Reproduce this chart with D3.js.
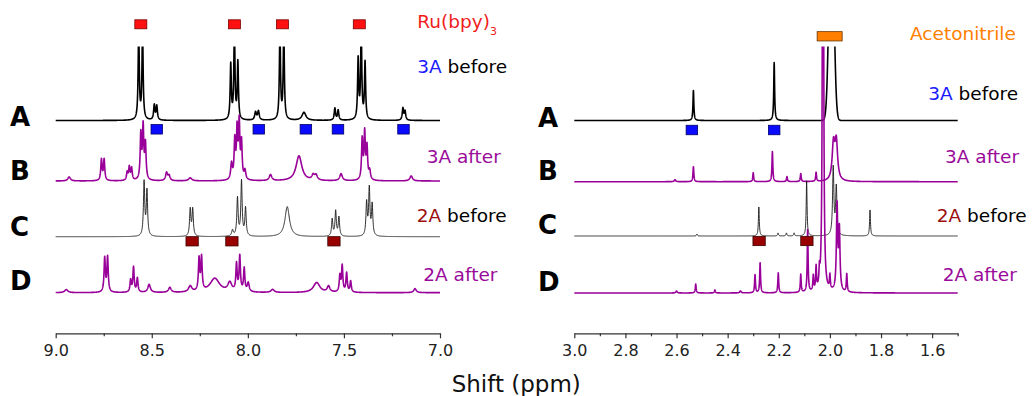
<!DOCTYPE html>
<html>
<head>
<meta charset="utf-8">
<script src="https://cdn.jsdelivr.net/npm/d3@7"></script>
<style>
  html, body { margin: 0; padding: 0; background: #fff; }
</style>
</head>
<body>
<script>
const fontFamily = "'DejaVu Sans', 'Liberation Sans', sans-serif";

// axes
const leftDomain = [9.0, 7.0];
const rightDomain = [3.0, 1.5];
const leftMajorTicks = [9.0, 8.5, 8.0, 7.5, 7.0];
const leftMinorTicks = [8.75, 8.25, 7.75, 7.25];
const rightMajorTicks = [3.0, 2.8, 2.6, 2.4, 2.2, 2.0, 1.8, 1.6];
const rightMinorTicks = [2.9, 2.7, 2.5, 2.3, 2.1, 1.9, 1.7, 1.5];

const rowLetters = ["A", "B", "C", "D"];
const sampleNames = ["3A", "3A", "2A", "2A"];
const sampleStates = ["before", "after", "before", "after"];

// peak lists: [ppm, height, half width (ppm), optional "g" for gaussian shape]
const leftA = [
    [8.568, 90, 0.0035], [8.548, 90, 0.0035],
    [8.487, 15, 0.004], [8.474, 14, 0.004],
    [8.089, 55, 0.0035], [8.070, 90, 0.0035], [8.052, 57, 0.0035],
    [7.960, 8, 0.005], [7.945, 9, 0.005],
    [7.833, 90, 0.0035], [7.813, 90, 0.0035],
    [7.708, 8, 0.012],
    [7.547, 12, 0.004], [7.530, 10, 0.004],
    [7.426, 60, 0.0035], [7.410, 90, 0.0035], [7.390, 57, 0.0035],
    [7.193, 12, 0.004], [7.182, 9, 0.004]
];
const leftB = [
    [8.930, 4, 0.008],
    [8.762, 21, 0.004], [8.748, 21, 0.004],
    [8.628, 8, 0.004], [8.617, 13, 0.004], [8.605, 12, 0.004],
    [8.557, 45, 0.004], [8.545, 52, 0.004], [8.533, 35, 0.004],
    [8.423, 8, 0.006], [8.410, 5, 0.006],
    [8.300, 3, 0.01],
    [8.085, 16, 0.005], [8.068, 38, 0.004], [8.056, 48, 0.004],
    [8.045, 55, 0.004], [8.033, 36, 0.004], [8.015, 9, 0.005],
    [7.882, 6, 0.008],
    [7.734, 25, 0.018],
    [7.660, 5, 0.008], [7.645, 5, 0.008],
    [7.515, 7, 0.008],
    [7.405, 40, 0.004], [7.392, 46, 0.004], [7.380, 32, 0.004], [7.366, 9, 0.005],
    [7.150, 5, 0.008]
];
const leftC = [
    [8.540, 54, 0.004], [8.525, 45, 0.004],
    [8.300, 27, 0.004], [8.287, 27, 0.004],
    [8.080, 6, 0.005],
    [8.054, 38, 0.004], [8.033, 55, 0.004], [8.012, 28, 0.004],
    [7.795, 30, 0.014],
    [7.561, 17, 0.004], [7.543, 25, 0.004], [7.526, 19, 0.004],
    [7.382, 33, 0.004], [7.368, 47, 0.004], [7.353, 31, 0.004]
];
const leftD = [
    [8.945, 3, 0.01],
    [8.745, 34, 0.004], [8.730, 35, 0.004],
    [8.610, 12, 0.004], [8.595, 25, 0.004], [8.575, 14, 0.004],
    [8.514, 8, 0.008],
    [8.406, 5, 0.008],
    [8.300, 6, 0.01],
    [8.254, 32, 0.004], [8.241, 33, 0.004],
    [8.172, 14, 0.03],
    [8.094, 9, 0.012],
    [8.059, 27, 0.004], [8.042, 35, 0.004], [8.019, 23, 0.004],
    [7.998, 9, 0.006],
    [7.871, 3, 0.01],
    [7.642, 10, 0.02],
    [7.580, 6, 0.008],
    [7.521, 16, 0.004], [7.509, 26, 0.004], [7.486, 19, 0.004], [7.465, 11, 0.004],
    [7.130, 4, 0.008]
];
const rightA = [
    [2.534, 30, 0.002],
    [2.218, 58, 0.002],
    [1.994, 220, 0.0092, "g"]
];
const rightB = [
    [2.606, 2, 0.003],
    [2.534, 15, 0.002],
    [2.300, 9, 0.002],
    [2.225, 30, 0.002],
    [2.168, 5, 0.002],
    [2.114, 8, 0.002],
    [2.054, 9, 0.002],
    [1.986, 36, 0.006], [1.975, 38, 0.006]
];
const rightC = [
    [2.520, 2, 0.002],
    [2.278, 29, 0.002],
    [2.203, 3, 0.002], [2.170, 3, 0.002], [2.140, 3, 0.002],
    [2.091, 55, 0.002],
    [1.987, 68, 0.003], [1.975, 48, 0.003],
    [1.843, 26, 0.002]
];
const rightD = [
    [2.600, 2, 0.003], [2.525, 9, 0.002], [2.450, 3, 0.002], [2.350, 2, 0.003],
    [2.293, 18, 0.002], [2.273, 30, 0.002],
    [2.202, 20, 0.002],
    [2.114, 18, 0.002],
    [2.087, 62, 0.002],
    [2.065, 15, 0.002], [2.054, 23, 0.002], [2.041, 15, 0.002],
    [2.027, 800, 0.002],
    [2.000, 14, 0.002],
    [1.972, 85, 0.003], [1.963, 60, 0.003],
    [1.934, 18, 0.002]
];

// assignment markers (ppm)
const ruMarks = [8.557, 8.07, 7.82, 7.42];
const blueMarksLeft = [8.474, 7.943, 7.698, 7.531, 7.19];
const brownMarksLeft = [8.29, 8.083, 7.552];
const blueMarksRight = [2.54, 2.218];
const brownMarksRight = [2.277, 2.09];
const acetonitrileMarks = [2.001];

const width = 1035;
const height = 396;
const axisY = 333.3;
const clipTop = 46.5;

const traceStyles = [
    { color: "#000", width: 1.6 },
    { color: "#990099", width: 1.6 },
    { color: "#1a1a1a", width: 0.9 },
    { color: "#990099", width: 1.6 }
];

const panels = [
    {
        id: "left",
        domain: leftDomain,
        range: [55.7, 440],
        step: 0.0008,
        major: leftMajorTicks,
        minor: leftMinorTicks,
        traces: [leftA, leftB, leftC, leftD],
        baselines: [120.5, 181, 236.7, 292.7],
        letterX: 10,
        letterY: [126, 180, 236, 290],
        labelX: [417.3, 426.7, 416.7, 423.3],
        labelY: [73.3, 163.3, 221.7, 280.7]
    },
    {
        id: "right",
        domain: rightDomain,
        range: [574.3, 957.7],
        step: 0.0004,
        major: rightMajorTicks,
        minor: rightMinorTicks,
        traces: [rightA, rightB, rightC, rightD],
        baselines: [120.5, 181.7, 236, 293],
        letterX: 538,
        letterY: [127, 180, 234, 291],
        labelX: [928.3, 945, 936.7, 942.7],
        labelY: [100, 163.3, 221.7, 280.7]
    }
];


function lineShape(p, x) {
    let d = (x - p[0]) / p[2];
    if (p[3] === "g") {
        return p[1] * Math.exp(-0.5 * d * d);
    }
    return p[1] / (1 + d * d);
}


function spectrum(peaks, domain, step) {
    let lo = Math.min(domain[0], domain[1]);
    let hi = Math.max(domain[0], domain[1]);
    let xs = d3.range(lo, hi + step / 2, step);
    peaks.forEach(p => { if (p[0] >= lo && p[0] <= hi) xs.push(p[0]); });
    xs.sort((a, b) => b - a);
    return xs.map(x => [x, d3.sum(peaks, p => lineShape(p, x))]);
}


function drawPanel(svg, panel) {
    let x = d3.scaleLinear().domain(panel.domain).range(panel.range);

    svg.append("clipPath")
        .attr("id", "clip-" + panel.id)
        .append("rect")
        .attr("x", panel.range[0] - 2)
        .attr("y", clipTop)
        .attr("width", panel.range[1] - panel.range[0] + 4)
        .attr("height", axisY - clipTop);

    let g = svg.append("g")
        .attr("clip-path", "url(#clip-" + panel.id + ")");

    panel.traces.forEach((peaks, i) => {
        let base = panel.baselines[i];
        let y = d3.scaleLinear().domain([0, 100]).range([base, base - 100]);
        let line = d3.line()
            .x(d => x(d[0]))
            .y(d => y(d[1]));
        g.append("path")
            .datum(spectrum(peaks, panel.domain, panel.step))
            .attr("fill", "none")
            .attr("stroke", traceStyles[i].color)
            .attr("stroke-width", traceStyles[i].width)
            .attr("stroke-linejoin", "round")
            .attr("d", line);
    });

    // axis with labelled major ticks
    let major = svg.append("g")
        .attr("transform", "translate(0," + axisY + ")")
        .call(d3.axisBottom(x)
            .tickValues(panel.major)
            .tickFormat(d3.format(".1f"))
            .tickSize(5)
            .tickSizeOuter(0));
    major.select(".domain")
        .attr("stroke", "#333")
        .attr("stroke-width", 1.2);
    major.selectAll(".tick line")
        .attr("stroke", "#333")
        .attr("stroke-width", 1.2);
    major.selectAll(".tick text")
        .attr("y", 23)
        .attr("dy", 0)
        .attr("fill", "#222")
        .style("font-family", fontFamily)
        .style("font-size", "16px");

    let minor = svg.append("g")
        .attr("transform", "translate(0," + axisY + ")")
        .call(d3.axisBottom(x)
            .tickValues(panel.minor)
            .tickFormat("")
            .tickSize(3)
            .tickSizeOuter(0));
    minor.select(".domain").remove();
    minor.selectAll(".tick line")
        .attr("stroke", "#333")
        .attr("stroke-width", 1.2);

    // row letters
    rowLetters.forEach((letter, i) => {
        svg.append("text")
            .attr("x", panel.letterX)
            .attr("y", panel.letterY[i])
            .style("font-family", fontFamily)
            .style("font-weight", "bold")
            .style("font-size", "26px")
            .attr("fill", "#000")
            .text(letter);
    });

    // series labels
    sampleNames.forEach((name, i) => {
        let t = svg.append("text")
            .attr("x", panel.labelX[i])
            .attr("y", panel.labelY[i])
            .style("font-family", fontFamily)
            .style("font-size", "18.5px");
        if (sampleStates[i] === "after") {
            t.attr("fill", "#9a0a9a").text(name + " " + sampleStates[i]);
        } else {
            t.append("tspan")
                .attr("fill", name === "3A" ? "#1a1aff" : "#9b1010")
                .text(name);
            t.append("tspan")
                .attr("fill", "#000")
                .text(" " + sampleStates[i]);
        }
    });

    return x;
}


function drawMarks(svg, x, values, y, w, h, fill, stroke) {
    svg.append("g")
        .selectAll("rect")
        .data(values)
        .enter()
        .append("rect")
        .attr("x", d => x(d) - w / 2)
        .attr("y", y - h / 2)
        .attr("width", w)
        .attr("height", h)
        .attr("fill", fill)
        .attr("stroke", stroke)
        .attr("stroke-width", 0.8);
}


function createDrawing() {
    let svg = d3.select("body")
        .append("svg")
        .attr("width", width)
        .attr("height", height)
        .style("display", "block");

    let xLeft = drawPanel(svg, panels[0]);
    let xRight = drawPanel(svg, panels[1]);

    drawMarks(svg, xLeft, ruMarks, 24.3, 12, 9, "#ff1010", "#7a0000");
    drawMarks(svg, xLeft, blueMarksLeft, 129.3, 11.5, 9.5, "#0a0aff", "#00006a");
    drawMarks(svg, xLeft, brownMarksLeft, 241.3, 12.3, 9.3, "#990000", "#3a0000");
    drawMarks(svg, xRight, blueMarksRight, 130, 11.5, 9.5, "#0a0aff", "#00006a");
    drawMarks(svg, xRight, brownMarksRight, 241, 12.3, 9.3, "#990000", "#3a0000");
    drawMarks(svg, xRight, acetonitrileMarks, 36.3, 25, 9.3, "#ff8000", "#6a3300");

    // Ru(bpy)3 legend
    let ru = svg.append("text")
        .attr("x", 417.3)
        .attr("y", 28.3)
        .attr("fill", "#f01c1c")
        .style("font-family", fontFamily)
        .style("font-size", "18.5px");
    ru.append("tspan").text("Ru(bpy)");
    ru.append("tspan")
        .attr("dy", 7)
        .style("font-size", "11px")
        .text("3");

    svg.append("text")
        .attr("x", 910)
        .attr("y", 40)
        .attr("fill", "#ff8000")
        .style("font-family", fontFamily)
        .style("font-size", "18.5px")
        .text("Acetonitrile");

    svg.append("text")
        .attr("x", 451.7)
        .attr("y", 392)
        .attr("fill", "#111")
        .style("font-family", fontFamily)
        .style("font-size", "23px")
        .text("Shift (ppm)");
}


createDrawing();
</script>
</body>
</html>
